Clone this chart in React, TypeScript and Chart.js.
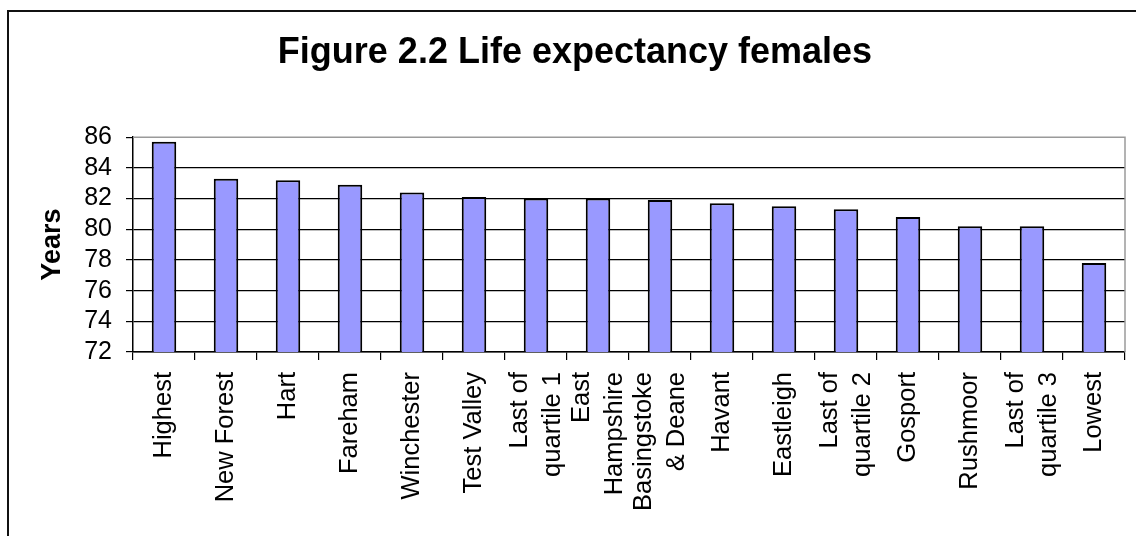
import { useEffect, useRef } from 'react';
import { Chart, registerables } from 'chart.js';

Chart.register(...registerables);

const FONT = '"Liberation Sans", Arial, Helvetica, sans-serif';

const chartTitle = 'Figure 2.2 Life expectancy females';
const yAxisTitle = 'Years';

const categories: string[][] = [
  ['Highest'],
  ['New Forest'],
  ['Hart'],
  ['Fareham'],
  ['Winchester'],
  ['Test Valley'],
  ['Last of', 'quartile 1'],
  ['East', 'Hampshire'],
  ['Basingstoke', '& Deane'],
  ['Havant'],
  ['Eastleigh'],
  ['Last of', 'quartile 2'],
  ['Gosport'],
  ['Rushmoor'],
  ['Last of', 'quartile 3'],
  ['Lowest'],
];

const lifeExpectancy = [
  85.7, 83.3, 83.2, 82.9, 82.4, 82.1, 82.0, 82.0, 81.9, 81.7, 81.5, 81.3, 80.8,
  80.2, 80.2, 77.8,
];

const yMin = 72;
const yMax = 86;
const yStep = 2;

const LABEL_GAP = 33;

const xLabelPlugin = {
  id: 'xLabelsCentered',
  afterDraw(chart: any) {
    const xs = chart.scales.x;
    const ctx = chart.ctx;
    ctx.save();
    ctx.font = `25.5px ${FONT}`;
    ctx.fillStyle = '#000';
    ctx.textAlign = 'right';
    ctx.textBaseline = 'middle';
    const top = xs.top + 8 + 12;
    categories.forEach((lines, i) => {
      const x = xs.getPixelForValue(i);
      ctx.save();
      ctx.translate(x, top);
      ctx.rotate(-Math.PI / 2);
      lines.forEach((line, k) => {
        ctx.fillText(line, 0, (k - (lines.length - 1) / 2) * LABEL_GAP);
      });
      ctx.restore();
    });
    ctx.restore();
  },
};

const plotBorderPlugin = {
  id: 'plotBorder',
  beforeDatasetsDraw(chart: any) {
    const { ctx, chartArea } = chart;
    ctx.save();
    ctx.strokeStyle = '#9a9a9a';
    ctx.lineWidth = 1.5;
    ctx.beginPath();
    ctx.moveTo(chartArea.left, chartArea.top);
    ctx.lineTo(chartArea.right, chartArea.top);
    ctx.lineTo(chartArea.right, chartArea.bottom);
    ctx.stroke();
    ctx.restore();
  },
};

export default function App() {
  const canvasRef = useRef<HTMLCanvasElement | null>(null);

  useEffect(() => {
    if (!canvasRef.current) return;
    const chart = new Chart(canvasRef.current, {
      type: 'bar',
      data: {
        labels: categories,
        datasets: [
          {
            data: lifeExpectancy,
            backgroundColor: '#9999FF',
            borderColor: '#000000',
            borderWidth: 2,
            categoryPercentage: 1,
            barPercentage: 0.395,
          },
        ],
      },
      options: {
        responsive: false,
        animation: false,
        devicePixelRatio: 1,
        layout: { padding: { left: 25, right: 11, top: 0, bottom: 0 } },
        plugins: {
          legend: { display: false },
          tooltip: { enabled: false },
          title: {
            display: true,
            text: chartTitle,
            color: '#000',
            font: { family: FONT, size: 36, weight: 'bold', lineHeight: 1.2 },
            padding: { top: 31, bottom: 63 },
          },
        },
        scales: {
          x: {
            type: 'category',
            offset: true,
            afterFit(scale: any) {
              scale.height = 184;
            },
            ticks: { display: false },
            grid: {
              display: true,
              offset: true,
              drawOnChartArea: false,
              drawTicks: true,
              tickLength: 8,
              color: '#000',
              lineWidth: 1.2,
            },
            border: { display: true, color: '#000', width: 1.5 },
          },
          y: {
            min: yMin,
            max: yMax,
            beginAtZero: false,
            afterFit(scale: any) {
              scale.width = 108;
            },
            ticks: {
              stepSize: yStep,
              autoSkip: false,
              color: '#000',
              padding: 14,
              font: { family: FONT, size: 25, lineHeight: 1 },
            },
            grid: {
              color: (ctx: any) => (ctx.tick && ctx.tick.value === yMax ? 'rgba(0,0,0,0)' : '#000'),
              tickColor: '#000',
              tickLength: 7,
              lineWidth: 1.2,
            },
            border: { display: true, color: '#000', width: 1.5 },
            title: {
              display: true,
              text: yAxisTitle,
              color: '#000',
              font: { family: FONT, size: 27, weight: 'bold', lineHeight: 1.2 },
              padding: { top: 11, bottom: 0 },
            },
          },
        },
      },
      plugins: [plotBorderPlugin, xLabelPlugin],
    });
    return () => chart.destroy();
  }, []);

  return (
    <div
      style={{
        position: 'fixed',
        left: 0,
        top: 0,
        width: 1136,
        height: 536,
        background: '#fff',
        overflow: 'hidden',
      }}
    >
      <div
        style={{
          position: 'absolute',
          left: 7,
          top: 10,
          width: 1400,
          height: 800,
          borderTop: '2px solid #111',
          borderLeft: '2px solid #111',
          boxSizing: 'border-box',
        }}
      />
      <canvas
        ref={canvasRef}
        width={1136}
        height={536}
        style={{ position: 'absolute', left: 0, top: 0, width: 1136, height: 536 }}
      />
    </div>
  );
}
